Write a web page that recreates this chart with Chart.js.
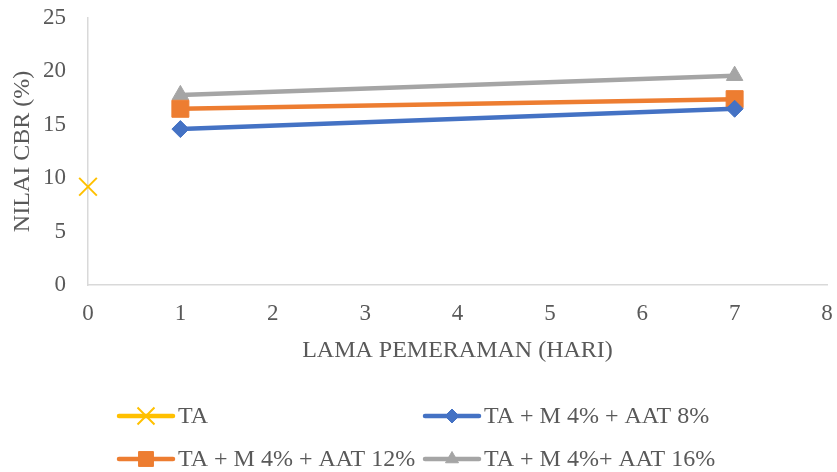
<!DOCTYPE html>
<html>
<head>
<meta charset="utf-8">
<script src="https://cdn.jsdelivr.net/npm/chart.js@4"></script>
<style>
  html, body { margin: 0; padding: 0; background: #fff; }
  #wrap { width: 837px; height: 472px; position: relative; }
</style>
</head>
<body>
<div id="wrap"><canvas id="c" width="837" height="472"></canvas></div>
<script>
// Curing time (days) and CBR values for each mix
const taDays = [0];
const taCbr = [9.2];
const mixDays = [1, 7];
const aat8 = [14.6, 16.5];
const aat12 = [16.5, 17.4];
const aat16 = [17.8, 19.6];
const seriesNames = ['TA', 'TA + M 4% + AAT 8%', 'TA + M 4% + AAT 12%', 'TA + M 4%+ AAT 16%'];
const xTicks = [0, 1, 2, 3, 4, 5, 6, 7, 8];
const yTicks = [0, 5, 10, 15, 20, 25];

const FONT = "'Liberation Serif', 'Times New Roman', serif";
const TEXT = '#595959';
const AXIS = '#D9D9D9';

const pts = (xs, ys) => xs.map((x, i) => ({ x, y: ys[i] }));

const datasets = [
  { label: seriesNames[0], data: pts(taDays, taCbr), borderColor: '#FFC000', backgroundColor: '#FFC000',
    pointStyle: 'crossRot', pointRadius: 12.5, pointBorderWidth: 2, borderWidth: 4.5, legendRadius: 12 },
  { label: seriesNames[1], data: pts(mixDays, aat8), borderColor: '#4472C4', backgroundColor: '#4472C4',
    pointStyle: 'rectRot', pointRadius: 8.5, pointBorderWidth: 1, borderWidth: 4.5, legendRadius: 7 },
  { label: seriesNames[2], data: pts(mixDays, aat12), borderColor: '#ED7D31', backgroundColor: '#ED7D31',
    pointStyle: 'rect', pointRadius: 12, pointBorderWidth: 1, borderWidth: 4.5, legendRadius: 10.5 },
  { label: seriesNames[3], data: pts(mixDays, aat16), borderColor: '#A5A5A5', backgroundColor: '#A5A5A5',
    pointStyle: 'triangle', pointRadius: 9.5, pointBorderWidth: 1, borderWidth: 4.5, legendRadius: 7.5 }
].map(d => Object.assign(d, { clip: false, tension: 0 }));

// Two-column legend beneath the plot
const gridLegend = {
  id: 'gridLegend',
  afterDraw(chart) {
    const ctx = chart.ctx;
    const cols = [119, 425];
    const rows = [416, 459];
    chart.data.datasets.forEach((ds, i) => {
      const x0 = cols[i % 2];
      const y = rows[Math.floor(i / 2)];
      ctx.save();
      ctx.strokeStyle = ds.borderColor;
      ctx.fillStyle = ds.backgroundColor;
      ctx.lineWidth = 4.5;
      ctx.lineCap = 'round';
      ctx.beginPath();
      ctx.moveTo(x0, y);
      ctx.lineTo(x0 + 54, y);
      ctx.stroke();
      ctx.lineCap = 'butt';
      ctx.lineWidth = ds.pointBorderWidth;
      Chart.helpers.drawPoint(ctx, {
        pointStyle: ds.pointStyle, rotation: 0, borderWidth: ds.pointBorderWidth, radius: ds.legendRadius
      }, x0 + 27, y);
      ctx.restore();
      ctx.save();
      ctx.fillStyle = TEXT;
      ctx.font = `24px ${FONT}`;
      ctx.textBaseline = 'middle';
      ctx.fillText(ds.label, x0 + 59, y + 1);
      ctx.restore();
    });
  }
};

new Chart(document.getElementById('c'), {
  type: 'line',
  data: { datasets },
  options: {
    responsive: false,
    animation: false,
    layout: { autoPadding: false, padding: { top: 18, right: 10, bottom: 103, left: 0 } },
    plugins: { legend: { display: false }, tooltip: { enabled: false } },
    scales: {
      x: {
        type: 'linear', min: 0, max: 8,
        afterBuildTicks: s => { s.ticks = xTicks.map(v => ({ value: v })); },
        afterFit: s => { s.height = 84; s.paddingLeft = 0; s.paddingRight = 0; },
        grid: { display: false, drawTicks: false },
        border: { display: true, color: AXIS, width: 1.5 },
        ticks: { color: TEXT, font: { family: FONT, size: 23 }, padding: 15, maxRotation: 0, autoSkip: false },
        title: { display: true, text: 'LAMA PEMERAMAN (HARI)', color: TEXT, font: { family: FONT, size: 24 }, padding: { top: 4, bottom: 4 } }
      },
      y: {
        min: 0, max: 25,
        afterBuildTicks: s => { s.ticks = yTicks.map(v => ({ value: v })); },
        afterFit: s => { s.width = 88; s.paddingTop = 0; s.paddingBottom = 0; },
        grid: { display: false, drawTicks: false },
        border: { display: true, color: AXIS, width: 1.5 },
        ticks: { color: TEXT, font: { family: FONT, size: 23 }, padding: 22, autoSkip: false },
        title: { display: true, text: 'NILAI CBR (%)', color: TEXT, font: { family: FONT, size: 24 }, padding: { top: 8, bottom: 0 } }
      }
    }
  },
  plugins: [gridLegend]
});
</script>
</body>
</html>
